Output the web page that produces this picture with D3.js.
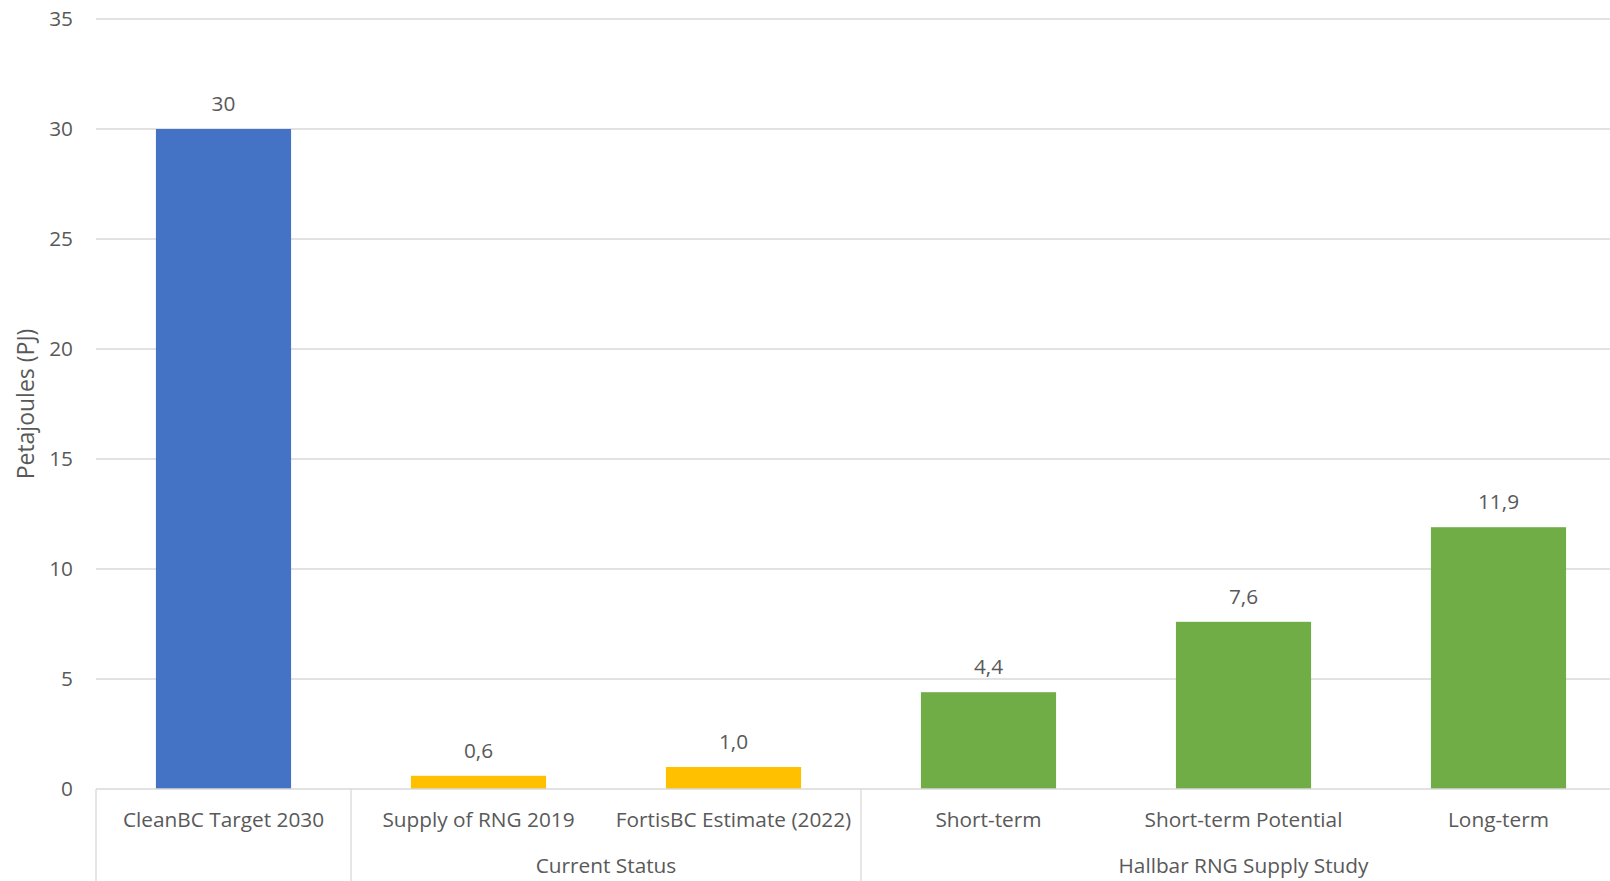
<!DOCTYPE html>
<html>
<head>
<meta charset="utf-8">
<script src="https://cdn.jsdelivr.net/npm/d3@7"></script>
<style>
  html, body { margin: 0; padding: 0; background: #fff; }
  svg { display: block; }
  text { font-family: "Open Sans", "Noto Sans", sans-serif; fill: #595959; }
</style>
</head>
<body>
<script>
const categories = ["CleanBC Target 2030", "Supply of RNG 2019", "FortisBC Estimate (2022)", "Short-term", "Short-term Potential", "Long-term"];
const values = [30, 0.6, 1.0, 4.4, 7.6, 11.9];
const valueLabels = ["30", "0,6", "1,0", "4,4", "7,6", "11,9"];
const barColors = ["#4472C4", "#FFC000", "#FFC000", "#70AD47", "#70AD47", "#70AD47"];
const groupNames = ["", "Current Status", "Hallbar RNG Supply Study"];
const groupStart = [0, 1, 3];
const groupEnd = [0, 2, 5];
const yTicks = [0, 5, 10, 15, 20, 25, 30, 35];
const yTitle = "Petajoules (PJ)";

const W = 1610, H = 881;
const left = 96, step = 255;
const FS = 20.8;
const svg = d3.select("body").append("svg").attr("width", W).attr("height", H);

const x = d3.scaleBand().domain(categories).range([left, left + step * categories.length]).padding(0);
const y = d3.scaleLinear().domain([0, 35]).range([789, 19]);

// gridlines
svg.append("g").selectAll("line").data(yTicks.filter(d => d > 0)).join("line")
  .attr("x1", left).attr("x2", W)
  .attr("y1", d => y(d)).attr("y2", d => y(d))
  .attr("stroke", "#d9d9d9").attr("stroke-width", 1.3);

// y tick labels
svg.append("g").selectAll("text").data(yTicks).join("text")
  .attr("x", 73).attr("y", d => y(d)).attr("dy", "0.35em")
  .attr("text-anchor", "end").attr("font-size", FS)
  .text(d => d);

// y title
svg.append("text")
  .attr("transform", `translate(26, ${(y(0) + y(35)) / 2}) rotate(-90)`)
  .attr("text-anchor", "middle").attr("dy", "0.35em").attr("font-size", 23)
  .text(yTitle);

// bars
const bw = x.bandwidth() * 0.53;
svg.append("g").selectAll("rect").data(categories).join("rect")
  .attr("x", d => x(d) + (x.bandwidth() - bw) / 2)
  .attr("width", bw)
  .attr("y", (d, i) => y(values[i]))
  .attr("height", (d, i) => y(0) - y(values[i]))
  .attr("fill", (d, i) => barColors[i]);

// value labels
svg.append("g").selectAll("text").data(categories).join("text")
  .attr("x", d => x(d) + x.bandwidth() / 2)
  .attr("y", (d, i) => y(values[i]) - 18)
  .attr("text-anchor", "middle").attr("font-size", FS)
  .text((d, i) => valueLabels[i]);

// x axis line
svg.append("line").attr("x1", left).attr("x2", W).attr("y1", y(0)).attr("y2", y(0))
  .attr("stroke", "#d9d9d9").attr("stroke-width", 1.3);

// category labels
svg.append("g").selectAll("text").data(categories).join("text")
  .attr("x", d => x(d) + x.bandwidth() / 2)
  .attr("y", 820).attr("dy", "0.35em")
  .attr("text-anchor", "middle").attr("font-size", FS)
  .text(d => d);

// group separators
const seps = [left].concat(groupEnd.map(e => x(categories[e]) + x.bandwidth()));
svg.append("g").selectAll("line").data(seps).join("line")
  .attr("x1", d => d).attr("x2", d => d)
  .attr("y1", y(0)).attr("y2", H)
  .attr("stroke", "#d9d9d9").attr("stroke-width", 1.3);

// group labels
svg.append("g").selectAll("text").data(groupNames).join("text")
  .attr("x", (d, i) => (x(categories[groupStart[i]]) + x(categories[groupEnd[i]]) + x.bandwidth()) / 2)
  .attr("y", 866).attr("dy", "0.35em")
  .attr("text-anchor", "middle").attr("font-size", FS)
  .text(d => d);
</script>
</body>
</html>
